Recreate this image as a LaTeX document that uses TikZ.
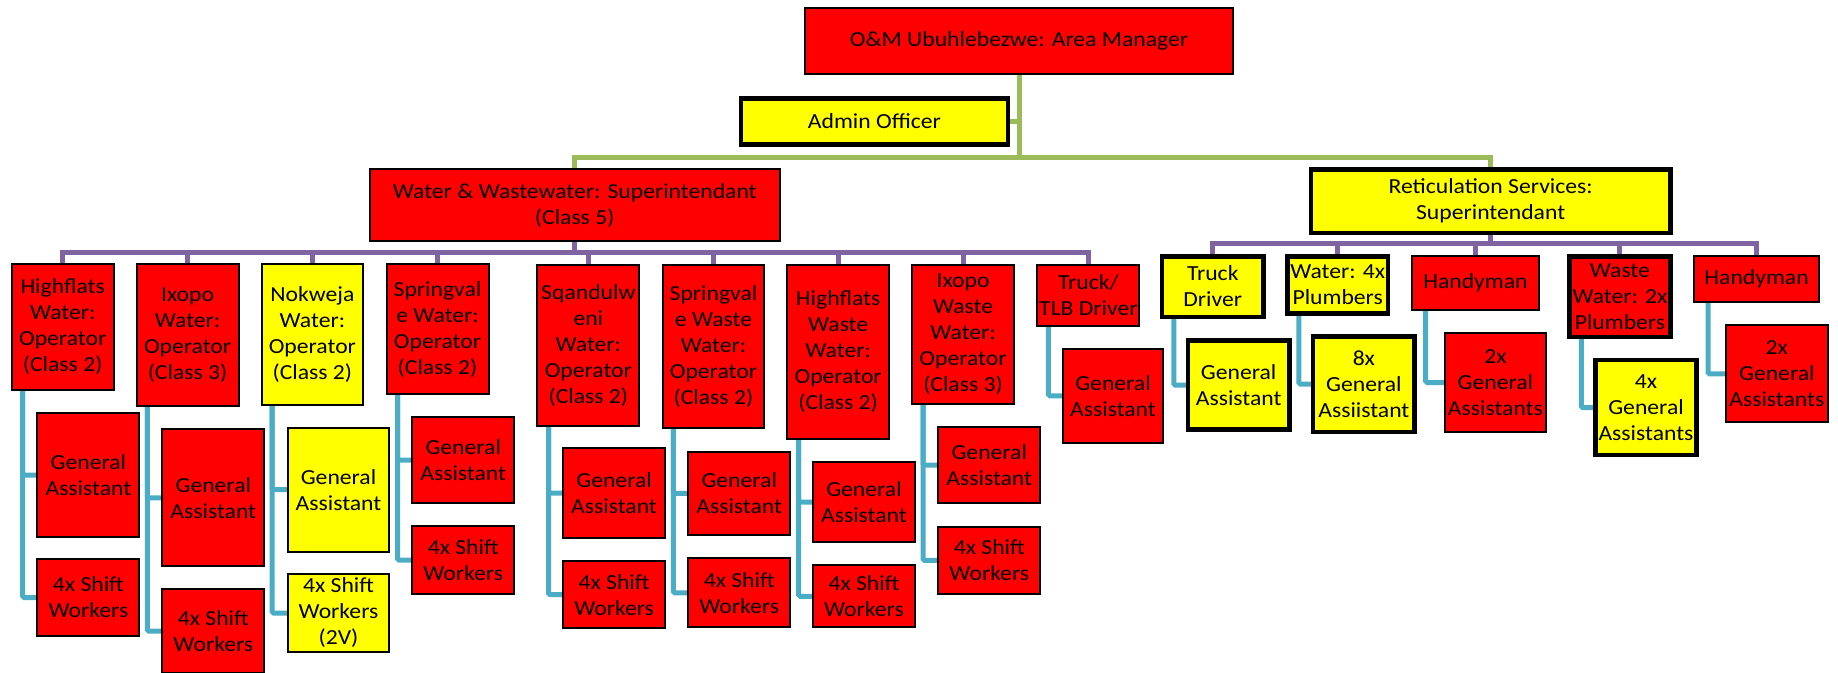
\documentclass[tikz,border=0pt]{standalone}
\usepackage{fontspec}
\setmainfont{Carlito}[FakeStretch=1.1]
\usetikzlibrary{calc,backgrounds}
\definecolor{boxred}{HTML}{FF0000}
\definecolor{boxyel}{HTML}{FFFF00}
\definecolor{lgreen}{HTML}{9BBB59}
\definecolor{lpurple}{HTML}{8064A2}
\definecolor{lblue}{HTML}{4BACC6}
\tikzset{
 card/.style={draw=black, inner sep=0pt, outer sep=0pt, align=center, font=\fontsize{21.5}{26}\selectfont},
 redthin/.style={card, fill=boxred, line width=2pt},
 yelthin/.style={card, fill=boxyel, line width=2pt},
 redthick/.style={card, fill=boxred, line width=4.5pt},
 yelthick/.style={card, fill=boxyel, line width=4.5pt},
 gline/.style={draw=lgreen, line width=5pt},
 pline/.style={draw=lpurple, line width=5pt},
 bline/.style={draw=lblue, line width=5pt, rounded corners=1.5pt},
}
\newcommand\orgbox[8]{%
 \pgfmathsetmacro\obw{#5-#3-2*#8}%
 \pgfmathsetmacro\obh{#6-#4-2*#8}%
 \pgfmathsetmacro\obx{(#3+#5)/2}%
 \pgfmathsetmacro\oby{(#4+#6)/2}%
 \node[#1, minimum width=\obw pt, minimum height=\obh pt] (#2) at (\obx,\oby) {#7};}
\begin{document}
\begin{tikzpicture}[x=1pt,y=-1pt]
\useasboundingbox (0,0) rectangle (1838,672);
% top levels
\orgbox{redthin}{top}{804}{7.3}{1234}{75}{O\&M Ubuhlebezwe: Area Manager}{1}
\orgbox{yelthick}{admin}{738.5}{96}{1010.4}{146.7}{Admin Officer}{2.25}
\orgbox{redthin}{ww}{368.5}{168.3}{781}{242.3}{Water \& Wastewater: Superintendant\\(Class 5)}{1}
\orgbox{yelthick}{ret}{1308.5}{167.3}{1672.8}{235}{Reticulation Services:\\Superintendant}{2.25}
% operators
\orgbox{redthin}{hf}{10.7}{263.3}{114.7}{390.7}{Highflats\\Water:\\Operator\\(Class 2)}{1}
\orgbox{redthin}{ix}{135.6}{263.3}{239.6}{407.3}{Ixopo\\Water:\\Operator\\(Class 3)}{1}
\orgbox{yelthin}{nk}{260.6}{263.3}{364.2}{406}{Nokweja\\Water:\\Operator\\(Class 2)}{1}
\orgbox{redthin}{sv}{385.5}{263.3}{489.5}{395.3}{Springval\\e Water:\\Operator\\(Class 2)}{1}
\orgbox{redthin}{sq}{536.3}{264}{640.4}{426.7}{Sqandulw\\eni\\Water:\\Operator\\(Class 2)}{1}
\orgbox{redthin}{sw}{661.6}{264}{765.3}{429.3}{Springval\\e Waste\\Water:\\Operator\\(Class 2)}{1}
\orgbox{redthin}{hw}{786.1}{264}{890.2}{440}{Highflats\\Waste\\Water:\\Operator\\(Class 2)}{1}
\orgbox{redthin}{iw}{911}{264}{1015.1}{405}{Ixopo\\Waste\\Water:\\Operator\\(Class 3)}{1}
\orgbox{redthin}{tt}{1036.4}{264}{1140.4}{326.7}{Truck/\\TLB Driver}{1}
% operator children
\orgbox{redthin}{hfga}{36.4}{411.7}{140.4}{538.3}{General\\Assistant}{1}
\orgbox{redthin}{hfsw}{36.4}{558.3}{140.4}{636.7}{4x Shift\\Workers}{1}
\orgbox{redthin}{ixga}{161.3}{428.3}{265.3}{567.3}{General\\Assistant}{1}
\orgbox{redthin}{ixsw}{161.3}{588.3}{265.3}{674}{4x Shift\\Workers}{1}
\orgbox{yelthin}{nkga}{286.7}{426.7}{390.3}{552.7}{General\\Assistant}{1}
\orgbox{yelthin}{nksw}{286.7}{573.3}{390.3}{652.7}{4x Shift\\Workers\\(2V)}{1}
\orgbox{redthin}{svga}{411.2}{416}{515.2}{504}{General\\Assistant}{1}
\orgbox{redthin}{svsw}{411.2}{525}{515.2}{595}{4x Shift\\Workers}{1}
\orgbox{redthin}{sqga}{562}{447.3}{666.1}{539}{General\\Assistant}{1}
\orgbox{redthin}{sqsw}{562}{560}{666.1}{629.3}{4x Shift\\Workers}{1}
\orgbox{redthin}{swga}{687.4}{450.7}{791}{536}{General\\Assistant}{1}
\orgbox{redthin}{swsw}{687.4}{557.3}{791}{628.3}{4x Shift\\Workers}{1}
\orgbox{redthin}{hwga}{811.9}{461}{916}{543.3}{General\\Assistant}{1}
\orgbox{redthin}{hwsw}{811.9}{564.3}{916}{628.3}{4x Shift\\Workers}{1}
\orgbox{redthin}{iwga}{937.2}{426}{1041.3}{504}{General\\Assistant}{1}
\orgbox{redthin}{iwsw}{937.2}{525.7}{1041.3}{595}{4x Shift\\Workers}{1}
\orgbox{redthin}{ttga}{1062}{347.7}{1164}{444}{General\\Assistant}{1}
% reticulation
\orgbox{yelthick}{td}{1159.8}{254}{1265.7}{319}{Truck\\Driver}{2.25}
\orgbox{yelthick}{wp}{1285}{254}{1390.4}{315.7}{Water: 4x\\Plumbers}{2.25}
\orgbox{redthin}{ha}{1410.7}{255}{1540.1}{310.7}{Handyman}{1}
\orgbox{redthick}{wwp}{1567}{254}{1672.8}{339}{Waste\\Water: 2x\\Plumbers}{2.25}
\orgbox{redthin}{hb}{1693}{255}{1820.2}{303.3}{Handyman}{1}
\orgbox{yelthick}{tdga}{1185.7}{338.3}{1291.6}{431.7}{General\\Assistant}{2.25}
\orgbox{yelthick}{wpga}{1310.9}{334}{1416.8}{434}{8x\\General\\Assiistant}{2.25}
\orgbox{redthin}{haga}{1443.6}{332.3}{1547.2}{432.7}{2x\\General\\Assistants}{1}
\orgbox{yelthick}{wwga}{1593.3}{357.7}{1698.7}{457.3}{4x\\General\\Assistants}{2.25}
\orgbox{redthin}{hbga}{1725}{324.3}{1828.6}{423.3}{2x\\General\\Assistants}{1}
% buses
\coordinate (gbus) at (0,157.5);
\coordinate (pbus) at (0,252.7);
\coordinate (rbus) at (0,243.3);
\begin{scope}[on background layer]
\draw[gline] (top.south) -- (top.south |- gbus);
\draw[gline] (admin.east) -- (admin.east -| top.south);
\draw[gline] (ww.north) -- (ww.north |- gbus) -- (ret.north |- gbus) -- (ret.north);
\draw[pline] (ww.south) -- (ww.south |- pbus);
\draw[pline] (hf.north) -- (hf.north |- pbus) -- (tt.north |- pbus) -- (tt.north);
\foreach \n in {ix,nk,sv,sq,sw,hw,iw} \draw[pline] (\n.north |- pbus) -- (\n.north);
\draw[pline] (ret.south) -- (ret.south |- rbus);
\draw[pline] (td.north) -- (td.north |- rbus) -- (hb.north |- rbus) -- (hb.north);
\foreach \n in {wp,ha,wwp} \draw[pline] (\n.north |- rbus) -- (\n.north);
\foreach \pa/\ca/\cb/\off in {hf/hfga/hfsw/11, ix/ixga/ixsw/10.7, nk/nkga/nksw/10.6, sv/svga/svsw/11, sq/sqga/sqsw/11.2, sw/swga/swsw/10.7, hw/hwga/hwsw/11.5, iw/iwga/iwsw/11} {
  \draw[bline] ($(\pa.south west)+(\off,0)$) |- (\ca.west);
  \draw[bline] ($(\pa.south west)+(\off,0)$) |- (\cb.west);
}
\foreach \pa/\ca/\off in {tt/ttga/11, td/tdga/11.7, wp/wpga/11.7, ha/haga/14, wwp/wwga/12, hb/hbga/14}
  \draw[bline] ($(\pa.south west)+(\off,0)$) |- (\ca.west);
\end{scope}
\end{tikzpicture}
\end{document}
